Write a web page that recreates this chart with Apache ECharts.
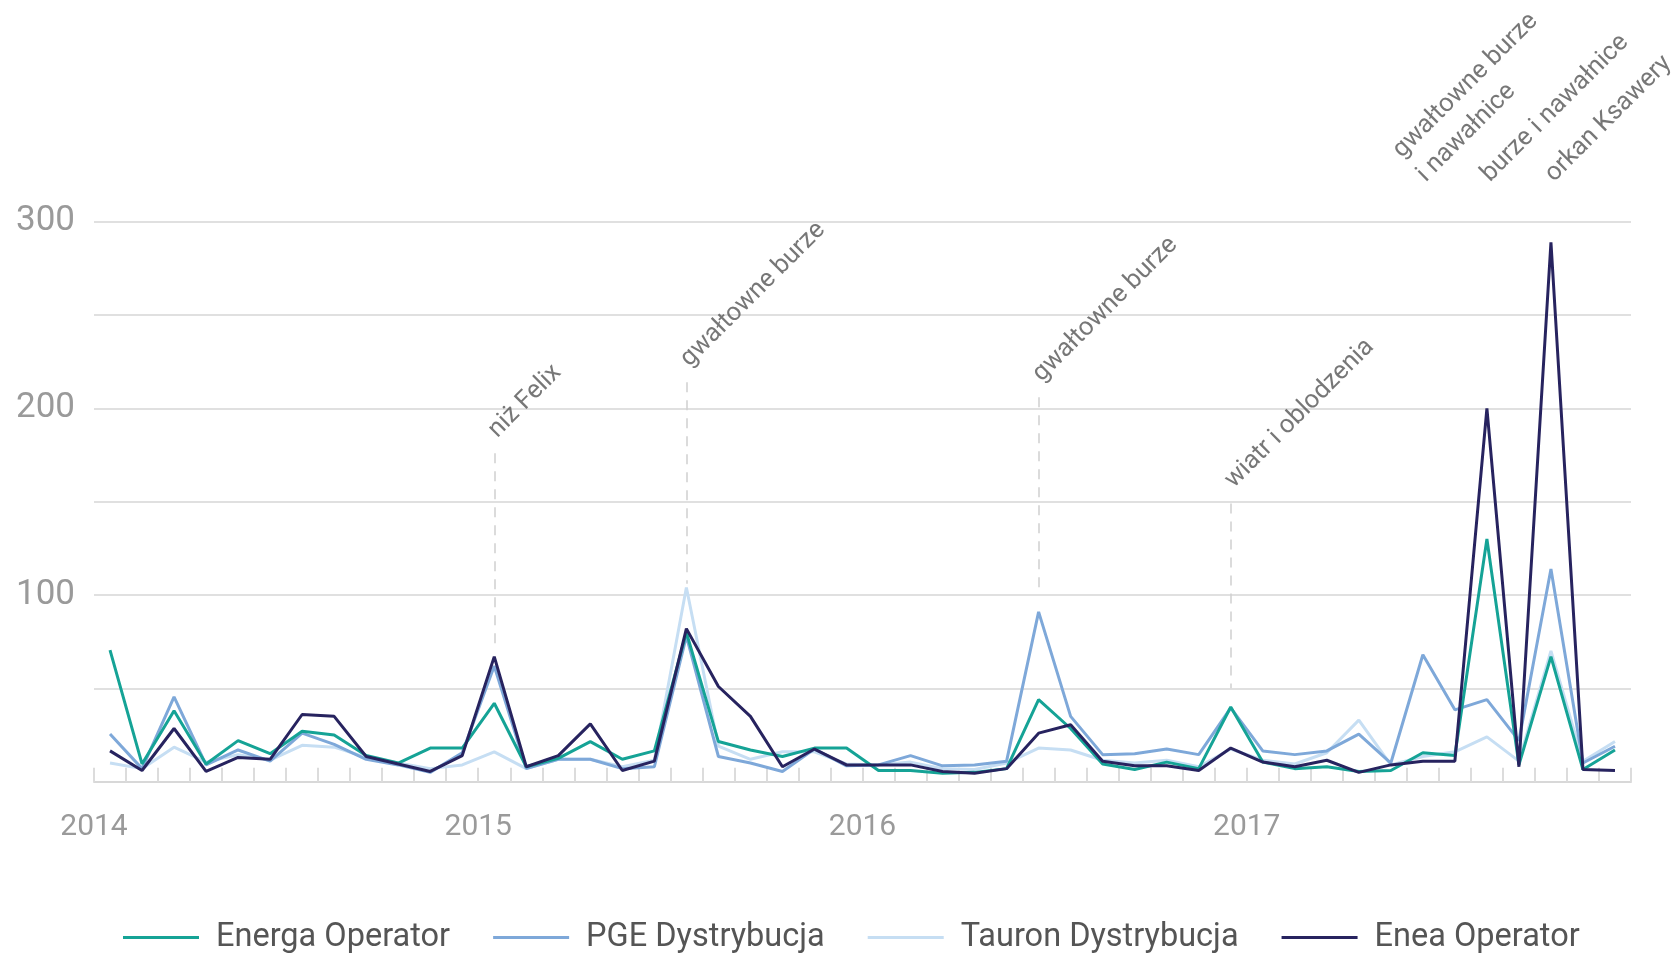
<!DOCTYPE html>
<html>
<head>
<meta charset="utf-8">
<script src="https://cdn.jsdelivr.net/npm/echarts@6/dist/echarts.min.js"></script>
<style>
    html, body {margin: 0; padding: 0; background: #fff;}
    #main {width: 1675px; height: 953px;}
</style>
</head>
<body>
<div id="main"></div>
<script>
// miesiące 2014-2017
let months = [
    '2014-01', '2014-02', '2014-03', '2014-04', '2014-05', '2014-06', '2014-07', '2014-08', '2014-09', '2014-10', '2014-11', '2014-12',
    '2015-01', '2015-02', '2015-03', '2015-04', '2015-05', '2015-06', '2015-07', '2015-08', '2015-09', '2015-10', '2015-11', '2015-12',
    '2016-01', '2016-02', '2016-03', '2016-04', '2016-05', '2016-06', '2016-07', '2016-08', '2016-09', '2016-10', '2016-11', '2016-12',
    '2017-01', '2017-02', '2017-03', '2017-04', '2017-05', '2017-06', '2017-07', '2017-08', '2017-09', '2017-10', '2017-11', '2017-12'
];
let years = ['2014', '2015', '2016', '2017'];

let energa = [70.5, 9.5, 38, 9.5, 22, 15, 27, 25, 14, 10, 18, 18,
    42, 8, 12.5, 21.5, 12, 16.5, 80, 21.5, 17, 13.5, 18, 18,
    6, 6, 4.5, 5, 7, 44, 28.5, 9.5, 6.5, 10.5, 7, 40,
    10.5, 7, 8, 5.5, 6, 15.5, 14, 130, 9, 67, 6.5, 17];
let pge = [25.5, 7, 45.5, 9, 17, 11, 26, 20, 12, 9, 5, 15.5,
    62, 7, 12, 12, 7, 8, 78, 13.5, 10, 5.5, 17.5, 8.5,
    9, 14, 8.5, 9, 11, 91, 35, 14.5, 15, 17.5, 14.5, 39.5,
    16.5, 14.5, 16.5, 25.5, 10, 68, 38.5, 44, 22, 114, 10, 19];
let tauron = [10, 7, 18.5, 10.5, 14.5, 11.5, 19.5, 18.5, 13, 10, 7, 9,
    16, 7, 12, 12, 8, 11.5, 104, 19, 12, 16, 16, 9.5,
    9, 10.5, 7, 6.5, 10, 18, 17, 11.5, 10, 11.5, 8, 17.5,
    11.5, 9.5, 15.5, 33, 9, 13.5, 16, 24, 11, 70, 11, 21.5];
let enea = [16.5, 6, 28.5, 5.5, 13, 12, 36, 35, 13.5, 9.5, 5.5, 14,
    67, 8, 14, 31, 6, 11, 82, 51, 35, 8, 17.5, 9,
    9, 9, 5.5, 4.5, 7, 26, 30.5, 11, 8.5, 8.5, 6, 18,
    10.5, 8, 11.5, 5, 9, 11, 11, 200, 8, 289, 6.5, 6];

// zdarzenia (adnotacje)
let eventMonth = ['2015-01', '2015-07', '2016-06', '2016-12', '2017-06', '2017-08', '2017-10'];
let eventText = ['niż Felix', 'gwałtowne burze', 'gwałtowne burze', 'wiatr i oblodzenia',
    'gwałtowne burze\ni nawałnice', 'burze i nawałnice', 'orkan Ksawery'];
let eventTop = [176, 214, 206, 149, 313, 313, 313];
let eventBottom = [71, 106, 100, 50, 80, 205, 294];

let fontName = 'Roboto, "Open Sans", sans-serif';

function lineSeries(name, data, color) {
    return {
        name: name,
        type: 'line',
        data: data,
        showSymbol: false,
        symbol: 'none',
        lineStyle: {width: 3, color: color},
        itemStyle: {color: color}
    };
}

let myChart = echarts.init(document.getElementById('main'));
let option = {
    animation: false,
    backgroundColor: '#fff',
    grid: {left: 94, right: 44, top: 221.7, bottom: 171.3},
    legend: {
        left: 118,
        top: 916,
        icon: 'rect',
        itemWidth: 76,
        itemHeight: 3,
        itemGap: 43,
        data: ['Energa Operator', 'PGE Dystrybucja', 'Tauron Dystrybucja', 'Enea Operator'],
        textStyle: {fontSize: 32.5, color: '#555', fontFamily: fontName, padding: [0, 0, 0, 12]}
    },
    xAxis: [
        {
            type: 'category',
            data: months,
            boundaryGap: true,
            axisLine: {lineStyle: {color: '#d8d8d8', width: 2}},
            axisTick: {show: true, interval: 0, inside: true, length: 14, lineStyle: {color: '#dcdcdc', width: 2}},
            axisLabel: {show: false},
            splitLine: {show: false}
        },
        {
            type: 'value',
            min: 0,
            max: 48,
            interval: 12,
            position: 'bottom',
            axisLine: {show: false},
            axisTick: {show: false},
            splitLine: {show: false},
            axisLabel: {
                margin: 31,
                fontSize: 30,
                color: '#9a9a9a',
                fontFamily: fontName,
                formatter: function (v) {
                    return years[v / 12] || '';
                }
            }
        }
    ],
    yAxis: {
        type: 'value',
        min: 0,
        max: 300,
        interval: 50,
        axisLine: {show: false},
        axisTick: {show: false},
        splitLine: {lineStyle: {color: '#d6d6d6', width: 1.5}},
        axisLabel: {
            margin: 19,
            fontSize: 35,
            color: '#9a9a9a',
            fontFamily: fontName,
            formatter: function (v) {
                return (v > 0 && v % 100 === 0) ? v : '';
            }
        }
    },
    series: [
        lineSeries('Tauron Dystrybucja', tauron, '#c6def3'),
        lineSeries('PGE Dystrybucja', pge, '#7ea8d9'),
        lineSeries('Energa Operator', energa, '#15a396'),
        lineSeries('Enea Operator', enea, '#27235f'),
        {
            // podpisy zdarzeń + linie przerywane
            type: 'scatter',
            silent: true,
            clip: false,
            symbolSize: 1,
            itemStyle: {color: 'rgba(0,0,0,0)'},
            data: eventMonth.map(function (m, i) {
                return {name: eventText[i], value: [m, eventTop[i]]};
            }),
            label: {
                show: true,
                formatter: function (p) {
                    return p.name;
                },
                position: [11, -7],
                align: 'left',
                verticalAlign: 'bottom',
                rotate: 45,
                fontSize: 25.5,
                lineHeight: 34,
                color: '#555',
                fontFamily: fontName
            },
            markLine: {
                silent: true,
                symbol: 'none',
                label: {show: false},
                lineStyle: {type: [10, 8], color: '#cfcfcf', width: 1.5},
                data: eventMonth.map(function (m, i) {
                    return [{coord: [m, eventTop[i]]}, {coord: [m, eventBottom[i]]}];
                })
            }
        }
    ]
};
myChart.setOption(option);
</script>
</body>
</html>
